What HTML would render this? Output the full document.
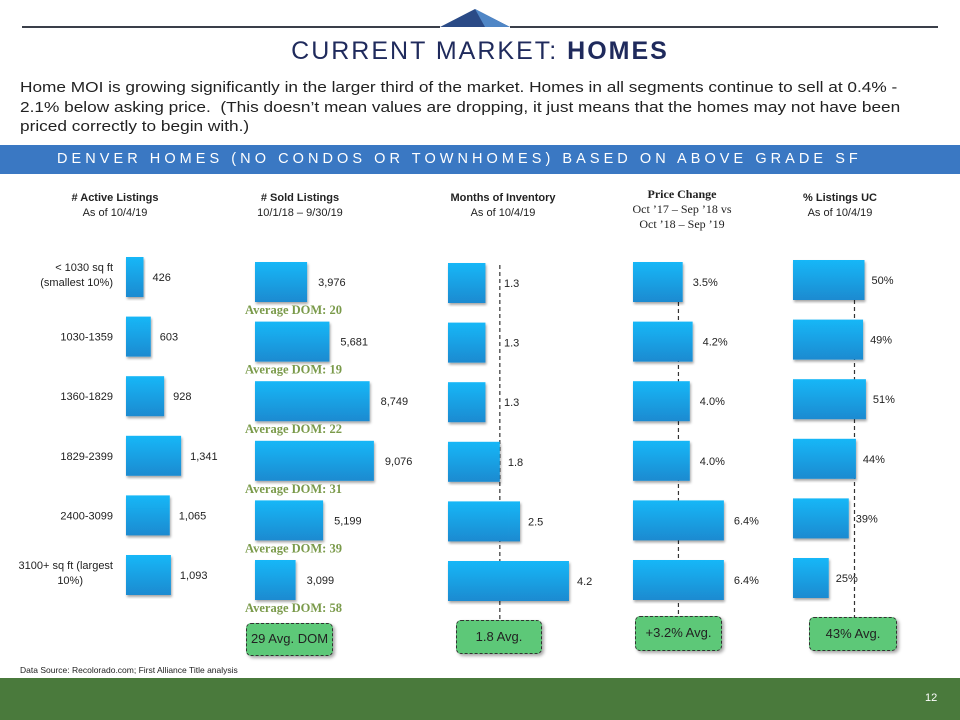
<!DOCTYPE html>
<html><head><meta charset="utf-8"><style>
body{margin:0;width:960px;height:720px;position:relative;background:#fff;font-family:"Liberation Sans",sans-serif;overflow:hidden}
.abs{position:absolute}
.hdr{position:absolute;text-align:center;font-size:11px;color:#222;line-height:15px;width:160px}
.hdr b{font-weight:bold}
.ser{font-family:"Liberation Serif",serif;font-size:12px}
.box{position:absolute;background:#5dc878;border:1.5px dashed #333;border-radius:5px;text-align:center;font-size:13px;color:#222;box-shadow:2px 2px 3px rgba(0,0,0,.35);box-sizing:border-box}
</style></head><body>
<svg class="abs" style="left:0;top:0" width="960" height="40">
<line x1="22" y1="27" x2="440" y2="27" stroke="#3a3f4a" stroke-width="2"/>
<line x1="510" y1="27" x2="938" y2="27" stroke="#3a3f4a" stroke-width="2"/>
<polygon points="440,27 475,9 510,27" fill="#2a4a86"/>
<polygon points="475,9 510,27 485,27" fill="#4f86c6"/>
</svg>
<div class="abs" style="left:0;width:960px;top:37px;text-align:center;font-size:25px;letter-spacing:2px;color:#1f2a5c">CURRENT MARKET: <b>HOMES</b></div>
<div class="abs" style="left:20px;top:78px;width:800px;font-size:15px;line-height:19.5px;color:#222;white-space:nowrap;transform:scaleX(1.15);transform-origin:0 0">
<div>Home MOI is growing significantly in the larger third of the market. Homes in all segments continue to sell at 0.4% -</div>
<div>2.1% below asking price. &nbsp;(This doesn’t mean values are dropping, it just means that the homes may not have been</div>
<div>priced correctly to begin with.)</div></div>
<div class="abs" style="left:0;top:145px;width:960px;height:29px;background:#3a78c3"></div>
<div class="abs" style="left:57px;top:145px;height:29px;color:#fff;font-size:14.5px;line-height:29px;letter-spacing:4.05px;white-space:nowrap">DENVER HOMES (NO CONDOS OR TOWNHOMES) BASED ON ABOVE GRADE SF</div>

<div class="hdr" style="left:35px;top:191px"><b>#  Active Listings</b><br>As of 10/4/19</div>
<div class="hdr" style="left:220px;top:191px"><b># Sold Listings</b><br>10/1/18 – 9/30/19</div>
<div class="hdr" style="left:423px;top:191px"><b>Months of Inventory</b><br>As of 10/4/19</div>
<div class="hdr ser" style="left:602px;top:187px"><b>Price Change</b><br>Oct ’17 – Sep ’18 vs<br>Oct ’18 – Sep ’19</div>
<div class="hdr" style="left:760px;top:191px"><b>% Listings UC</b><br>As of 10/4/19</div>

<svg id="chart" class="abs" style="left:0;top:0" width="960" height="720">
<defs><linearGradient id="g" x1="0" y1="0" x2="0" y2="1"><stop offset="0" stop-color="#19b7f7"/><stop offset="1" stop-color="#1a8ad0"/></linearGradient>
<filter id="sh"><feDropShadow dx="1" dy="2" stdDeviation="1.2" flood-opacity="0.35"/></filter></defs>
</svg>

<div class="box" style="left:246px;top:623px;width:87px;height:33px;line-height:30px">29 Avg. DOM</div>
<div class="box" style="left:456px;top:620px;width:86px;height:34px;line-height:31px">1.8 Avg.</div>
<div class="box" style="left:635px;top:616px;width:87px;height:35px;line-height:31px">+3.2% Avg.</div>
<div class="box" style="left:809px;top:617px;width:88px;height:34px;line-height:31px">43% Avg.</div>

<div class="abs" style="left:20px;top:665px;font-size:8.5px;color:#222">Data Source: Recolorado.com; First Alliance Title analysis</div>
<div class="abs" style="left:0;top:678px;width:960px;height:42px;background:#4a7a3c"></div>
<div class="abs" style="left:925px;top:692px;font-size:11px;color:#fff">12</div>

<script>
const categories=["< 1030 sq ft|(smallest 10%)","1030-1359","1360-1829","1829-2399","2400-3099","3100+ sq ft (largest|10%)"];
const activeListings=[426,603,928,1341,1065,1093];
const activeLabels=["426","603","928","1,341","1,065","1,093"];
const soldListings=[3976,5681,8749,9076,5199,3099];
const soldLabels=["3,976","5,681","8,749","9,076","5,199","3,099"];
const avgDom=[20,19,22,31,39,58];
const monthsInventory=[1.3,1.3,1.3,1.8,2.5,4.2];
const priceChange=[3.5,4.2,4.0,4.0,6.4,6.4];
const listingsUC=[50,49,51,44,39,25];
const averages={moi:1.8,price:3.2,uc:43};

const svg=document.getElementById('chart');
const NS='http://www.w3.org/2000/svg';
function el(t,a){const e=document.createElementNS(NS,t);for(const k in a)e.setAttribute(k,a[k]);svg.appendChild(e);return e;}
function rowY(top,i){return top+i*59.6;}
function chart(name,vals,labels,x0,scale,top,dx,minX){
  vals.forEach((v,i)=>{
    const w=v*scale,y=rowY(top,i);
    const r=el('rect',{x:x0,y:y,width:w,height:40,fill:'url(#g)',filter:'url(#sh)'});
    
    
    const lx=Math.max(x0+w+(dx||9),minX||0);
    const t=el('text',{x:lx,y:y+24,'font-size':'11','fill':'#222','font-family':'Liberation Sans, sans-serif'});
    t.textContent=labels[i];
    
    
  });
}
function avgLine(name,x,y1,y2){
  const l=el('line',{x1:x,x2:x,y1:y1,y2:y2,stroke:'#333','stroke-width':1.2,'stroke-dasharray':'4,3'});
  
  
}
avgLine('moi',448+averages.moi*28.8,265,620);
avgLine('price',633+averages.price*14.2,302,616);
avgLine('uc',793+averages.uc*1.43,300,617);

categories.forEach((c,i)=>{
  const parts=c.split('|');
  const t=el('text',{x:113,y:rowY(257,i)+(parts.length>1?14:24),'font-size':'11','fill':'#222','text-anchor':'end','font-family':'Liberation Sans, sans-serif'});
  
  
  parts.forEach((p,j)=>{const s=document.createElementNS(NS,'tspan');s.setAttribute('x',(i==5&&j==1)?83:113);s.setAttribute('dy',j?15:0);s.textContent=p;t.appendChild(s);});
});
chart('active',activeListings,activeLabels,126,0.0411,257,9);
chart('sold',soldListings,soldLabels,255,0.0131,262,11);
chart('moi',monthsInventory,monthsInventory.map(v=>v.toFixed(1)),448,28.8,263,8,504);
chart('price',priceChange,priceChange.map(v=>v.toFixed(1)+'%'),633,14.2,262,10);
chart('uc',listingsUC,listingsUC.map(v=>v+'%'),793,1.43,260,7);
avgDom.forEach((d,i)=>{
  const t=el('text',{x:245,y:rowY(314,i),'font-size':'12.5','font-weight':'bold','fill':'#7a9a4a','font-family':'Liberation Serif, serif'});
  t.textContent='Average DOM: '+d;
  
  
});
</script>
</body></html>
